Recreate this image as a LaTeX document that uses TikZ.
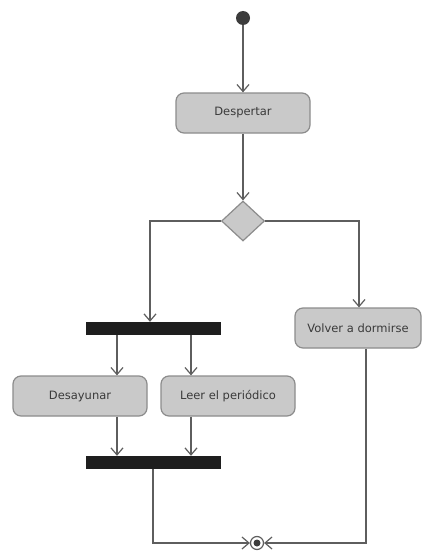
\documentclass[tikz,border=0pt]{standalone}
\usepackage{fontspec}
\setmainfont{DejaVu Sans}
\usetikzlibrary{arrows.meta,shapes.geometric}
\definecolor{boxfill}{HTML}{C9C9C9}
\definecolor{boxline}{HTML}{8C8C8C}
\definecolor{linec}{HTML}{5E5E5E}
\definecolor{txt}{HTML}{3A3A3A}
\definecolor{barfill}{HTML}{1E1E1E}
\definecolor{startc}{HTML}{3C3C3C}
\begin{document}
\begin{tikzpicture}[x=1pt,y=-1pt,
  action/.style={draw=boxline, fill=boxfill, rounded corners=8pt, minimum height=40pt, text=txt, font=\fontsize{11.5}{13}\selectfont, line width=1.2pt, inner sep=0pt},
  bar/.style={fill=barfill, draw=none, minimum width=135pt, minimum height=13pt, inner sep=0pt},
  flow/.style={draw=linec, line width=1.2pt, -{Straight Barb[length=7pt,width=12pt]}}]
\useasboundingbox[fill=white] (0,0) rectangle (422,551);
\node[circle, fill=startc, minimum size=14pt, inner sep=0pt] (start) at (243,18) {};
\node[action, minimum width=134pt] (desp) at (243,113) {Despertar};
\node[diamond, fill=boxfill, draw=boxline, line width=1.2pt, minimum width=43pt, minimum height=40pt, inner sep=0pt] (dec) at (243,221) {};
\node[action, minimum width=126pt] (volver) at (358,328) {Volver a dormirse};
\node[bar] (fork) at (153.5,328.5) {};
\node[action, minimum width=134pt] (desay) at (80,396) {Desayunar};
\node[action, minimum width=134pt] (leer) at (228,396) {Leer el periódico};
\node[bar] (join) at (153.5,462.5) {};
\node[circle, draw=linec, fill=white, line width=1.2pt, minimum size=13pt, inner sep=0pt] (end) at (257,543) {};
\fill[startc] (end.center) circle (3.5pt);
\draw[flow] (start) -- (desp);
\draw[flow] (desp) -- (dec);
\draw[flow] (dec.west) -| (150,0 |- fork.north);
\draw[flow] (dec.east) -| (359,0 |- volver.north);
\draw[flow] (117,0 |- fork.south) -- (117,0 |- desay.north);
\draw[flow] (191,0 |- fork.south) -- (191,0 |- leer.north);
\draw[flow] (117,0 |- desay.south) -- (117,0 |- join.north);
\draw[flow] (191,0 |- leer.south) -- (191,0 |- join.north);
\draw[flow] (153,0 |- join.south) |- (end.west);
\draw[flow] (366,0 |- volver.south) |- (end.east);
\end{tikzpicture}
\end{document}
